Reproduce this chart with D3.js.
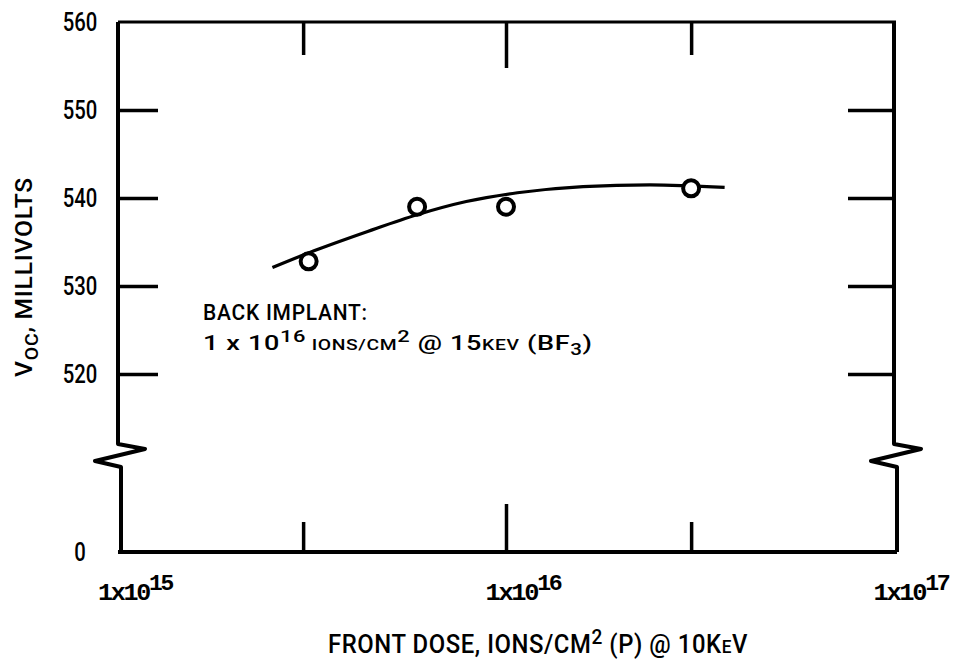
<!DOCTYPE html>
<html><head><meta charset="utf-8">
<script src="https://cdn.jsdelivr.net/npm/d3@7"></script>
<style>body{margin:0;background:#fff}</style>
</head><body>
<svg id="c" width="955" height="664"></svg>
<script>
// ---- data ----
const doses = [3.1e15, 5.9e15, 1.0e16, 3.0e16];
const voc = [532.8, 539.0, 539.0, 541.1];
const fitDose = [2.5e15, 3.2e15, 4.4e15, 5.9e15, 7.9e15, 1.07e16, 1.58e16, 2.35e16, 3.66e16];
const fitVoc = [532.1, 534.0, 536.2, 538.1, 539.6, 540.6, 541.3, 541.5, 541.2];
const yTickValues = [520, 530, 540, 550];
const yLabelValues = [0, 520, 530, 540, 550, 560];
const xMinorTicks = [3e15, 3e16];
const xMajorTicks = [1e16];
const xLabelExps = [15, 16, 17];
const yBreak = 510;

const svg = d3.select("#c");
const L = 118, R = 894, T = 22, B = 552;
const x = d3.scaleLog().domain([1e15, 1e17]).range([L, R]);
const y = d3.scaleLinear().domain([0, yBreak, 560]).range([B, 462, T]);

const sans = "Roboto,'Liberation Sans',sans-serif";
const mono = "'Liberation Mono','DejaVu Sans Mono',monospace";

// horizontal squeeze of a text around its anchor point
function squeeze(sel, s, x0, y0) {
  sel.attr("transform", `translate(${x0},${y0}) scale(${s},1) translate(${-x0},${-y0})`);
}
function fitWidth(sel, target, x0, y0) {
  const w = sel.node().getBBox().width;
  squeeze(sel, target / w, x0, y0);
}

// ---- frame with breaks ----
const yb = y(yBreak);
const zig = (x0) => [[x0, T], [x0, yb - 18], [x0 + 27, yb - 13], [x0 - 23, yb - 1], [x0 + 3, yb + 5], [x0 + 3, B]];
const line = d3.line();
svg.append("path").attr("d", line(zig(L))).attr("fill", "none").attr("stroke", "#000").attr("stroke-width", 4).attr("stroke-linejoin", "round");
svg.append("path").attr("d", line(zig(R))).attr("fill", "none").attr("stroke", "#000").attr("stroke-width", 4).attr("stroke-linejoin", "round");
svg.append("line").attr("x1", L).attr("x2", R + 2).attr("y1", T).attr("y2", T).attr("stroke", "#000").attr("stroke-width", 3);
svg.append("line").attr("x1", L).attr("x2", R + 3).attr("y1", B).attr("y2", B).attr("stroke", "#000").attr("stroke-width", 4);

// ---- ticks via d3 axes (inward) ----
function styleAxis(g) { g.select(".domain").remove(); g.selectAll("text").remove(); g.selectAll(".tick line").attr("stroke", "#000").attr("stroke-width", 3.5); }
svg.append("g").attr("transform", `translate(${L},0)`).call(d3.axisLeft(y).tickValues(yTickValues).tickSize(-40)).call(styleAxis);
svg.append("g").attr("transform", `translate(${R},0)`).call(d3.axisRight(y).tickValues(yTickValues).tickSize(-46)).call(styleAxis);
svg.append("g").attr("transform", `translate(0,${T})`).call(d3.axisTop(x).tickValues(xMinorTicks).tickSize(-33)).call(styleAxis);
svg.append("g").attr("transform", `translate(0,${T})`).call(d3.axisTop(x).tickValues(xMajorTicks).tickSize(-46)).call(styleAxis);
svg.append("g").attr("transform", `translate(0,${B})`).call(d3.axisBottom(x).tickValues(xMinorTicks).tickSize(-30)).call(styleAxis);
svg.append("g").attr("transform", `translate(0,${B})`).call(d3.axisBottom(x).tickValues(xMajorTicks).tickSize(-48)).call(styleAxis);

// ---- y labels ----
const yl = svg.append("g").selectAll("text").data(yLabelValues).join("text")
  .attr("x", 80).attr("y", d => y(d)).attr("dy", "0.36em")
  .attr("text-anchor", "middle").attr("font-family", sans).attr("font-weight", 500).attr("font-size", 26)
  .text(d => d);
yl.each(function (d) { squeeze(d3.select(this), 0.78, 80, y(d)); });

// ---- x labels ----
const xl = svg.append("g").selectAll("text").data(xLabelExps).join("text")
  .attr("x", d => x(Math.pow(10, d)) + 17).attr("y", 600)
  .attr("text-anchor", "middle").attr("font-family", mono).attr("font-weight", "bold").attr("font-size", 24).attr("letter-spacing", -2.2);
xl.append("tspan").text("1x10");
xl.append("tspan").attr("dy", -10).attr("font-size", 22).text(d => d);
xl.each(function (d) { fitWidth(d3.select(this), 76, x(Math.pow(10, d)) + 17, 600); });

// ---- axis titles ----
const xt = svg.append("text").attr("x", 538).attr("y", 653).attr("text-anchor", "middle")
  .attr("font-family", sans).attr("font-weight", 500).attr("font-size", 25).attr("letter-spacing", 0.6);
xt.append("tspan").text("FRONT DOSE, IONS/CM");
xt.append("tspan").attr("dy", -9).attr("font-size", 20).text("2");
xt.append("tspan").attr("dy", 9).text(" (P) @ 10K");
xt.append("tspan").attr("font-size", 18).text("E");
xt.append("tspan").text("V");
fitWidth(xt, 420, 538, 653);

const ytg = svg.append("g").attr("transform", "translate(32,277) rotate(-90)");
const yt = ytg.append("text").attr("x", 0).attr("y", 0).attr("text-anchor", "middle")
  .attr("font-family", sans).attr("font-weight", 500).attr("font-size", 24).attr("letter-spacing", 0.8);
yt.append("tspan").text("V");
yt.append("tspan").attr("dy", 6).attr("font-size", 19).text("OC");
yt.append("tspan").attr("dy", -6).text(", MILLIVOLTS");
fitWidth(yt, 200, 0, 0);

// ---- annotation ----
const a1 = svg.append("text").attr("x", 203).attr("y", 320).attr("font-family", sans).attr("font-weight", 500).attr("font-size", 22).attr("letter-spacing", 0.8).text("BACK IMPLANT:");
fitWidth(a1, 165, 203, 320);
const an = svg.append("text").attr("x", 203).attr("y", 350).attr("font-family", sans).attr("font-weight", 500).attr("font-size", 21).attr("letter-spacing", 0.5);
an.append("tspan").text("1 x 10");
an.append("tspan").attr("dy", -8).attr("font-size", 17).text("16");
an.append("tspan").attr("dy", 8).attr("font-size", 15).text("  IONS/CM");
an.append("tspan").attr("dy", -8).attr("font-size", 17).text("2");
an.append("tspan").attr("dy", 8).text(" @ 15");
an.append("tspan").attr("font-size", 15).text("KEV");
an.append("tspan").text(" (BF");
an.append("tspan").attr("dy", 5).attr("font-size", 16).text("3");
an.append("tspan").attr("dy", -5).text(")");
fitWidth(an, 390, 203, 350);

// ---- fitted curve ----
const fit = fitDose.map((d, i) => [d, fitVoc[i]]);
svg.append("path").datum(fit)
  .attr("d", d3.line().x(d => x(d[0])).y(d => y(d[1])).curve(d3.curveMonotoneX))
  .attr("fill", "none").attr("stroke", "#000").attr("stroke-width", 3.2);

// ---- data points ----
svg.append("g").selectAll("circle").data(doses.map((d, i) => [d, voc[i]])).join("circle")
  .attr("cx", d => x(d[0])).attr("cy", d => y(d[1])).attr("r", 8)
  .attr("fill", "#fff").attr("stroke", "#000").attr("stroke-width", 4);
</script>
</body></html>
